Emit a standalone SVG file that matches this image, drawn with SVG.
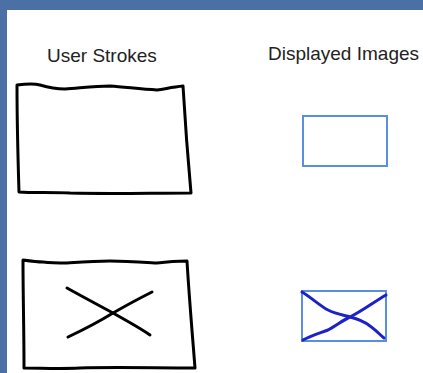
<svg xmlns="http://www.w3.org/2000/svg" width="423" height="373" viewBox="0 0 423 373">
<style>
.lbl{font-family:"Liberation Sans",Arial,sans-serif;font-size:19px;fill:#222}
.ink{fill:none;stroke:#000;stroke-width:3;stroke-linecap:round;stroke-linejoin:round}
.disp{fill:none;stroke:#5a8ee0;stroke-width:2}
.dx{fill:none;stroke:#1c22c8;stroke-width:3;stroke-linecap:round;stroke-linejoin:round}
</style>
<rect x="0" y="0" width="423" height="373" fill="#4a70a6"/>
<rect x="7" y="10" width="416" height="363" fill="#ffffff"/>
<g id="label-user"><text class="lbl" x="47" y="62">User Strokes</text></g>
<g id="label-displayed"><text class="lbl" x="268" y="60">Displayed Images</text></g>
<g id="stroke-rect">
<path class="ink" d="M17,85 C25,84 33,83 40,85 C50,88 58,89 65,89 C80,88 95,86 110,86 C125,87 140,89 157,90 C165,89 172,87 183,86 C185,120 188,160 191,193 C150,193 110,194 70,193 C50,192 35,193 19,192 C18,160 17,120 17,85 Z"/>
</g>
<g id="stroke-x">
<path class="ink" d="M23,260 C30,261 37,262 43,262 C52,263 60,263 67,263 C82,262 96,261 110,261 C125,261 140,262 157,263 C165,262 175,261 187,261 C189,295 192,330 195,368 C155,368 115,367 80,368 C60,369 40,368 24,368 C24,330 23,295 23,260 Z"/>
<path class="ink" d="M67,288 C85,298 100,306 113,313 C127,321 140,328 150,335"/>
<path class="ink" d="M68,337 C85,329 100,321 113,313 C127,305 140,298 152,292"/>
</g>
<g id="displayed-rect">
<rect class="disp" x="303" y="116" width="84" height="50"/>
</g>
<g id="displayed-x">
<rect class="disp" x="302" y="291" width="84" height="50"/>
<path class="dx" d="M302,292 C312,298 320,306 328,310 C336,314 343,315 350,317 C358,319 365,322 370,326 C376,330 380,335 384,338"/>
<path class="dx" d="M303,340 C312,335 320,333 328,330 C336,326 343,320 350,317 C362,311 374,302 386,295"/>
</g>
</svg>
